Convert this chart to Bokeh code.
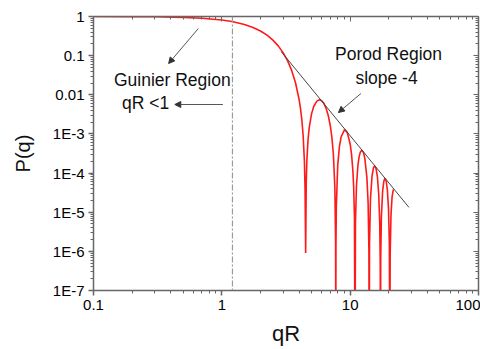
from bokeh.plotting import figure
from bokeh.models import (FixedTicker, LogAxis, Label, Arrow, NormalHead, Span, ColumnDataSource)
from bokeh.embed import file_html
from bokeh.resources import INLINE

# Sphere form factor curve
qR = [0.1, 0.2, 0.3, 0.5, 0.7, 1.0, 1.2, 1.5, 1.75, 2.0, 2.25, 2.5, 2.75, 3.0, 3.25, 3.5,
      3.75, 4.0, 4.1, 4.2, 4.3, 4.4, 4.45, 4.5, 4.55, 4.6, 4.7, 4.8, 5.0, 5.2, 5.5, 5.76,
      6.0, 6.25, 6.5, 6.75, 7.0, 7.2, 7.4, 7.6, 7.7, 7.725, 7.75, 7.8, 8.0, 8.25, 8.5, 9.0,
      9.1, 9.5, 10.0, 10.25, 10.5, 10.65, 10.8, 10.904, 11.0, 11.2, 11.5, 11.75, 12.0, 12.3,
      12.7, 13.0, 13.5, 13.8, 14.0, 14.066, 14.15, 14.4, 14.8, 15.2, 15.5, 15.9, 16.3, 16.7,
      17.0, 17.15, 17.22, 17.3, 17.5, 17.9, 18.3, 18.7, 19.1, 19.5, 19.9, 20.2, 20.37, 20.5,
      20.8, 21.2, 21.7]
Pq = [0.998, 0.992, 0.982, 0.951, 0.906, 0.816, 0.745, 0.628, 0.526, 0.4265, 0.333, 0.2495,
      0.178, 0.1195, 0.0745, 0.0419, 0.0203, 0.00758, 0.00448, 0.00231, 9.28e-4, 1.99e-4,
      4.12e-5, 9.1e-7, 6.43e-5, 2.17e-4, 7.40e-4, 1.476e-3, 3.255e-3, 5.02e-3, 6.89e-3, 7.43e-3,
      7.04e-3, 5.95e-3, 4.49e-3, 2.96e-3, 1.633e-3, 8.31e-4, 3.02e-4, 4.14e-5, 1.67e-6, 1e-9,
      1.5e-6, 1.33e-5, 1.59e-4, 4.82e-4, 8.35e-4, 1.256e-3, 1.268e-3, 1.081e-3, 5.54e-4, 3.0e-4,
      1.136e-4, 4.40e-5, 7.09e-6, 1e-9, 5.59e-6, 4.83e-5, 1.609e-4, 2.63e-4, 3.43e-4, 3.82e-4,
      3.33e-4, 2.41e-4, 7.77e-5, 1.71e-5, 1.04e-6, 1e-9, 1.57e-6, 2.24e-5, 8.38e-5, 1.383e-4,
      1.534e-4, 1.324e-4, 8.07e-5, 2.85e-5, 5.17e-6, 5.2e-7, 1e-9, 6.3e-7, 7.26e-6, 3.45e-5,
      6.23e-5, 7.31e-5, 6.18e-5, 3.64e-5, 1.18e-5, 1.56e-6, 1e-9, 8.4e-7, 8.31e-6, 2.42e-5,
      3.83e-5]

# Porod slope -4 guide line
porod_x = [2.9, 28.7]
porod_y = [0.127, 1.33e-5]

# Guinier limit marker
guinier_qR = 1.21

x_ticks = [0.1, 1, 10, 100]
x_tick_labels = ["0.1", "1", "10", "100"]
y_ticks = [1e-7, 1e-6, 1e-5, 1e-4, 1e-3, 1e-2, 1e-1, 1]
y_tick_labels = ["1E-7", "1E-6", "1E-5", "1E-4", "1E-3", "0.01", "0.1", "1"]

# Annotations (text, x, y) in data units
notes = [("Guinier Region", 0.411, 0.0232), ("qR <1", 0.255, 6.35e-3),
         ("Porod Region", 19.9, 0.1134), ("slope -4", 19.2, 0.0261)]
arrows = [(0.656, 0.494, 0.385, 0.063), (1.019, 5.65e-3, 0.430, 5.65e-3),
          (12.13, 0.0108, 8.10, 3.52e-3)]

FONT = "Liberation Sans"
AXIS_COLOR = "#666666"

def minor(decades):
    out = []
    for d in decades:
        for k in range(2, 10):
            out.append(k * d)
    return out

xt = FixedTicker(ticks=x_ticks, minor_ticks=minor([0.1, 1, 10]))
yt = FixedTicker(ticks=y_ticks, minor_ticks=minor([1e-7, 1e-6, 1e-5, 1e-4, 1e-3, 1e-2, 1e-1]))

p = figure(width=480, height=349, x_axis_type="log", y_axis_type="log",
           x_range=(0.1, 100), y_range=(1e-7, 1), output_backend="svg",
           toolbar_location=None)
p.min_border_left = 93
p.min_border_right = 2
p.min_border_top = 16
p.min_border_bottom = 59
p.grid.visible = False
p.outline_line_color = None
p.background_fill_color = "white"
p.border_fill_color = "white"

for ax, tk, labels in ((p.xaxis[0], xt, x_tick_labels), (p.yaxis[0], yt, y_tick_labels)):
    ax.ticker = tk
    ax.major_label_overrides = {t: l for t, l in zip(tk.ticks, labels)}
    ax.axis_line_color = AXIS_COLOR
    ax.axis_line_width = 1.5
    ax.major_tick_line_color = AXIS_COLOR
    ax.minor_tick_line_color = AXIS_COLOR
    ax.major_tick_line_width = 1.5
    ax.major_tick_in = 0
    ax.major_tick_out = 5
    ax.minor_tick_in = 0
    ax.minor_tick_out = 3
    ax.major_label_text_font = FONT
    ax.major_label_text_font_size = "15px"
    ax.major_label_text_color = "#000000"
    ax.axis_label_text_font = FONT
    ax.axis_label_text_font_style = "normal"
    ax.axis_label_text_color = "#111111"

p.xaxis.axis_label = "qR"
p.xaxis.axis_label_text_font_size = "22px"
p.xaxis.axis_label_standoff = 8
p.xaxis.axis_label_text_baseline = "alphabetic"
p.yaxis.axis_label = "P(q)"
p.yaxis.axis_label_text_font_size = "20px"
p.xaxis.major_label_standoff = 4
p.yaxis.major_label_standoff = 4
p.yaxis.axis_label_standoff = 16

for loc, tk in (("above", FixedTicker(ticks=x_ticks, minor_ticks=minor([0.1, 1, 10]))),
                ("right", FixedTicker(ticks=y_ticks, minor_ticks=minor([1e-7, 1e-6, 1e-5, 1e-4, 1e-3, 1e-2, 1e-1])))):
    a = LogAxis(ticker=tk)
    a.major_label_text_color = None
    a.major_label_text_font_size = "1px"
    a.major_label_standoff = 0
    a.axis_line_color = AXIS_COLOR
    a.axis_line_width = 1.5
    a.major_tick_line_color = AXIS_COLOR
    a.minor_tick_line_color = AXIS_COLOR
    a.major_tick_in = 5
    a.major_tick_out = 0
    a.minor_tick_in = 3
    a.minor_tick_out = 0
    p.add_layout(a, loc)

p.add_layout(Span(location=guinier_qR, dimension="height", line_color="#999999",
                  line_width=1.2, line_dash="6 2 2 2"))

src = ColumnDataSource(dict(x=qR, y=Pq))
p.line("x", "y", source=src, line_color="#ff1a1a", line_width=1.6)
p.line(porod_x, porod_y, line_color="#444444", line_width=1)

for x0, y0, x1, y1 in arrows:
    p.add_layout(Arrow(end=NormalHead(size=6, fill_color="#333333", line_color="#333333"),
                       x_start=x0, y_start=y0, x_end=x1, y_end=y1,
                       line_color="#555555", line_width=1))

for t, x, y in notes:
    p.add_layout(Label(x=x, y=y, text=t, text_align="center", text_baseline="middle",
                       text_font=FONT, text_font_size="17.5px", text_color="#111111"))

open("out.html", "w").write(file_html(p, INLINE))
